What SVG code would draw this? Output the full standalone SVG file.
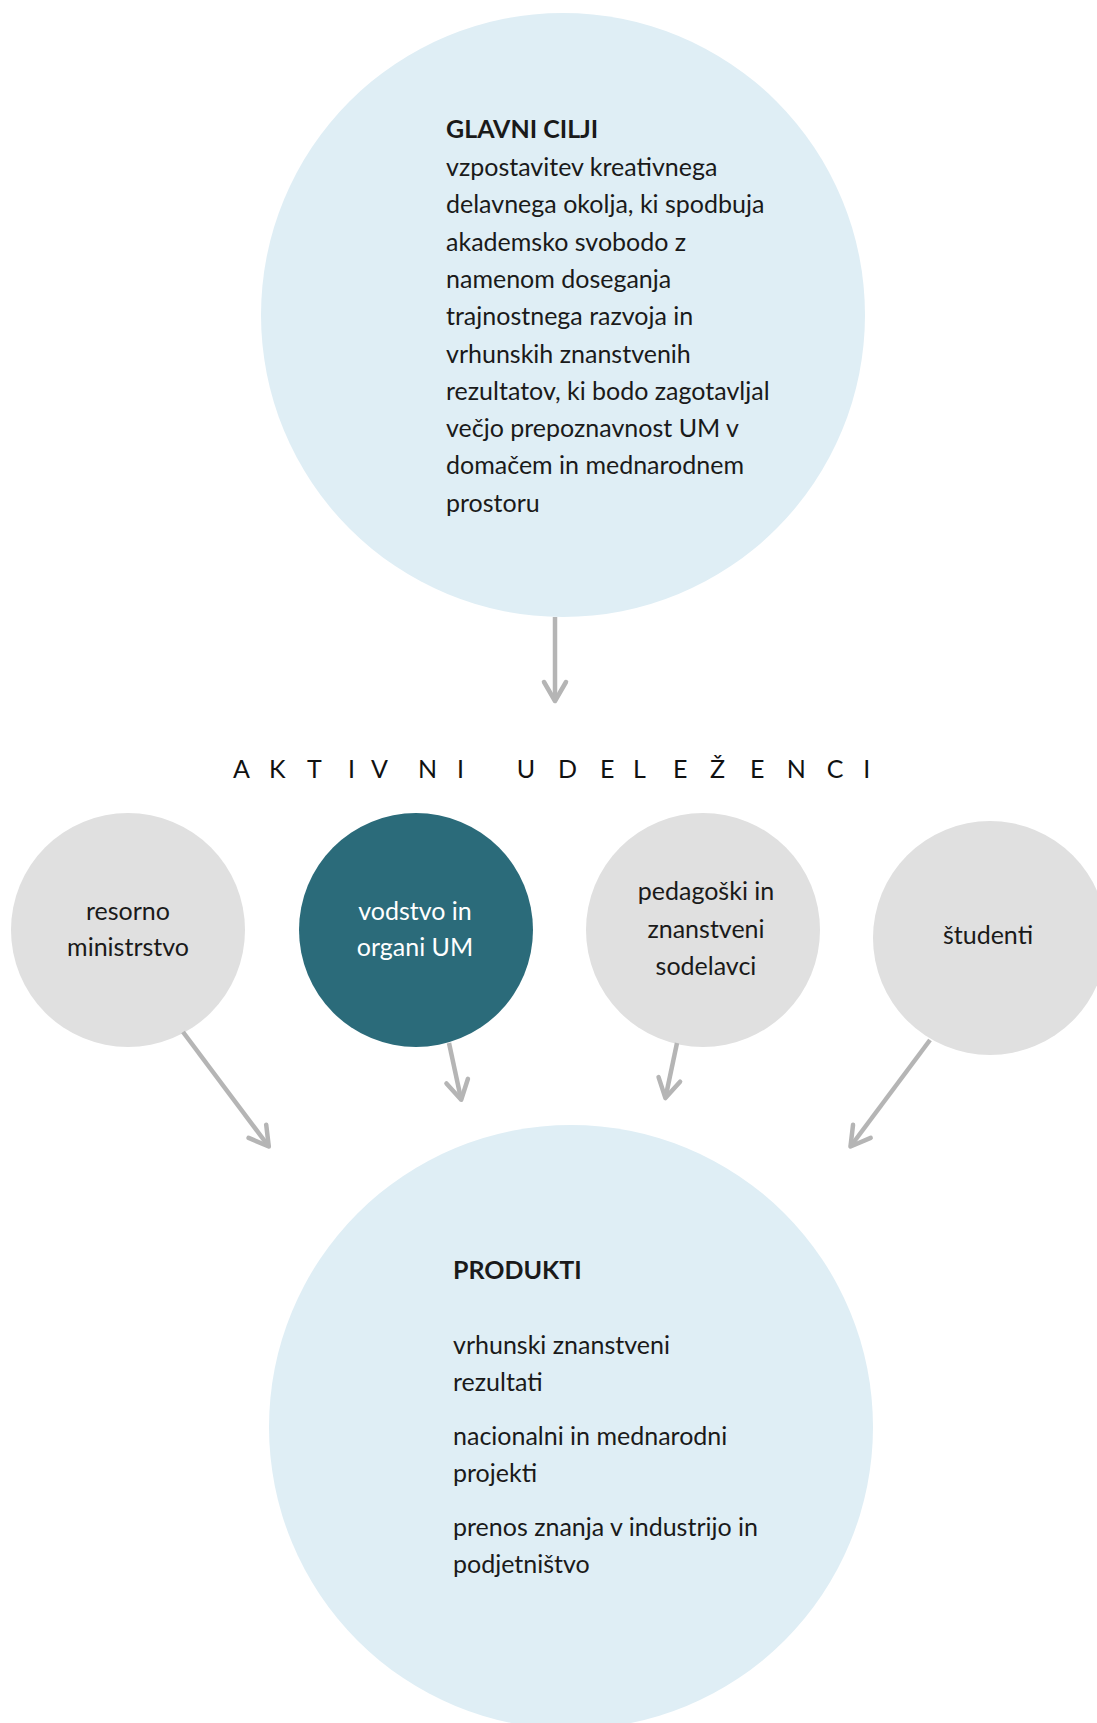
<svg xmlns="http://www.w3.org/2000/svg" width="1097" height="1723" viewBox="0 0 1097 1723">
  <style>
    .big { fill: #dfeef5; }
    .grey { fill: #e0e0e0; }
    .teal { fill: #2b6b7a; }
    .txt { font-family: Lato, "Liberation Sans", sans-serif; font-size: 25px; fill: #1a1a1a; }
    .bold { font-weight: 700; }
    .mid { text-anchor: middle; }
    .white { fill: #ffffff; }
    .title { font-family: Lato, "Liberation Sans", sans-serif; font-size: 25px; fill: #111111; font-weight: 400; }
    .conn { stroke: #b5b5b5; stroke-width: 4.5; fill: none; marker-end: url(#chev); }
  </style>
  <defs>
    <marker id="chev" markerUnits="userSpaceOnUse" markerWidth="40" markerHeight="40" viewBox="-30 -20 40 40" refX="0" refY="0" orient="auto">
      <path d="M -19,-11 L 0,0 L -19,11" fill="none" stroke="#b5b5b5" stroke-width="4.5" stroke-linecap="round" stroke-linejoin="round"/>
    </marker>
  </defs>
  <rect width="1097" height="1723" fill="#ffffff"/>

  <g id="glavni-cilji">
    <circle class="big" cx="563" cy="315" r="302"/>
    <text class="txt bold" x="446" y="138">GLAVNI CILJI</text>
    <text class="txt" x="446" y="176">vzpostavitev kreativnega</text>
    <text class="txt" x="446" y="213.3">delavnega okolja, ki spodbuja</text>
    <text class="txt" x="446" y="250.6">akademsko svobodo z</text>
    <text class="txt" x="446" y="287.9">namenom doseganja</text>
    <text class="txt" x="446" y="325.2">trajnostnega razvoja in</text>
    <text class="txt" x="446" y="362.5">vrhunskih znanstvenih</text>
    <text class="txt" x="446" y="399.8">rezultatov, ki bodo zagotavljal</text>
    <text class="txt" x="446" y="437.1">večjo prepoznavnost UM v</text>
    <text class="txt" x="446" y="474.4">domačem in mednarodnem</text>
    <text class="txt" x="446" y="511.7">prostoru</text>
  </g>

  <g id="aktivni-udelezenci">
    <text class="title" y="778" x="233 269 307 348 371 418 457 516.7 558 600 633 673 710 750 786.7 826.7 863.3">AKTIVNIUDELEŽENCI</text>
  </g>

  <g id="resorno-ministrstvo">
    <circle class="grey" cx="128" cy="930" r="117"/>
    <text class="txt mid" x="128" y="920">resorno</text>
    <text class="txt mid" x="128" y="956">ministrstvo</text>
  </g>

  <g id="vodstvo-organi">
    <circle class="teal" cx="416" cy="930" r="117"/>
    <text class="txt mid white" x="415" y="920">vodstvo in</text>
    <text class="txt mid white" x="415" y="956">organi UM</text>
  </g>

  <g id="pedagoski-sodelavci">
    <circle class="grey" cx="703" cy="930" r="117"/>
    <text class="txt mid" x="706" y="900">pedagoški in</text>
    <text class="txt mid" x="706" y="937.5">znanstveni</text>
    <text class="txt mid" x="706" y="975">sodelavci</text>
  </g>

  <g id="studenti">
    <circle class="grey" cx="990" cy="938" r="117"/>
    <text class="txt mid" x="988" y="944">študenti</text>
  </g>

  <g id="produkti">
    <circle class="big" cx="571" cy="1427" r="302"/>
    <text class="txt bold" x="453" y="1279">PRODUKTI</text>
    <text class="txt" x="453" y="1354">vrhunski znanstveni</text>
    <text class="txt" x="453" y="1391">rezultati</text>
    <text class="txt" x="453" y="1445">nacionalni in mednarodni</text>
    <text class="txt" x="453" y="1482">projekti</text>
    <text class="txt" x="453" y="1536">prenos znanja v industrijo in</text>
    <text class="txt" x="453" y="1573">podjetništvo</text>
  </g>

  <g id="connectors">
    <line class="conn" x1="555" y1="617" x2="555" y2="701"/>
    <line class="conn" x1="183" y1="1032" x2="268.8" y2="1146.5"/>
    <line class="conn" x1="449" y1="1043" x2="461.2" y2="1099.7"/>
    <line class="conn" x1="677" y1="1043" x2="665.4" y2="1098"/>
    <line class="conn" x1="930" y1="1040" x2="850.5" y2="1146.5"/>
  </g>
</svg>
